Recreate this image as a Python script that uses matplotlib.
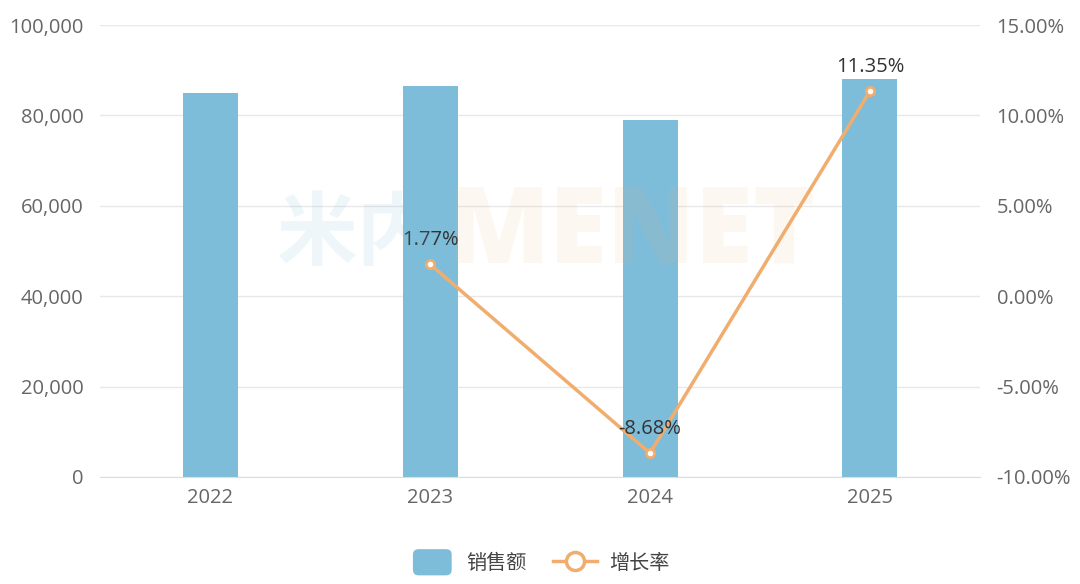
import matplotlib.pyplot as plt
from matplotlib.ticker import FuncFormatter
from matplotlib.patches import FancyBboxPatch
from matplotlib.lines import Line2D
from matplotlib.legend_handler import HandlerPatch

plt.rcParams['font.family'] = ['Open Sans', 'Noto Sans CJK SC', 'DejaVu Sans']

years = ['2022', '2023', '2024', '2025']
sales = [85000, 86500, 79000, 88000]
growth = [None, 1.77, -8.68, 11.35]
growth_labels = ['', '1.77%', '-8.68%', '11.35%']

bar_color = '#7ebdd9'
line_color = '#f0ad6e'
tick_color = '#666666'

fig = plt.figure(figsize=(10.8, 5.84), dpi=100)
ax = fig.add_axes([100/1080, 1-477/584, 880/1080, 452/584])
ax2 = ax.twinx()

x = list(range(len(years)))
ax.bar(x, sales, width=0.25, color=bar_color, zorder=2)
ax.set_xlim(-0.5, 3.5)
ax.set_ylim(0, 100000)
ax.set_yticks(range(0, 100001, 20000))
ax.yaxis.set_major_formatter(FuncFormatter(lambda v, p: f'{int(v):,}'))
ax.set_xticks(x)
ax.set_xticklabels(years)
ax.grid(axis='y', color='#e8e8e8', linewidth=1, zorder=0)
ax.set_axisbelow(True)

gx = [i for i, g in zip(x, growth) if g is not None]
gy = [g for g in growth if g is not None]
ax2.plot(gx, gy, color=line_color, linewidth=2.5, marker='o', markersize=6,
         markerfacecolor='white', markeredgecolor=line_color, markeredgewidth=2,
         zorder=3)
for xi, gi, lab in zip(x, growth, growth_labels):
    if gi is None:
        continue
    ax2.text(xi, gi + 0.8, lab, ha='center', va='bottom', fontsize=14.5, color='#333333')
ax2.set_ylim(-10, 15)
ax2.set_yticks(range(-10, 16, 5))
ax2.yaxis.set_major_formatter(FuncFormatter(lambda v, p: f'{v:.2f}%'))

for a in (ax, ax2):
    for s in a.spines.values():
        s.set_visible(False)
    a.tick_params(length=0, labelsize=14.5, colors=tick_color)
ax.spines['bottom'].set_visible(True)
ax.spines['bottom'].set_color('#dddddd')
ax.tick_params(axis='y', pad=12)
ax.tick_params(axis='x', pad=8)
ax2.tick_params(axis='y', pad=12)

# watermark
fig.text(0.405, 0.597, '米内', fontsize=58, fontweight='heavy', color='#7ebdd9', alpha=0.12,
         ha='right', va='center', zorder=10, family=['Noto Sans CJK SC'])
fig.text(0.415, 0.597, 'MENET', fontsize=76, fontweight='heavy', color='#f0ad6e', alpha=0.09,
         ha='left', va='center', zorder=10)


class RoundRectHandler(HandlerPatch):
    def create_artists(self, legend, orig_handle, xdescent, ydescent, width, height, fontsize, trans):
        p = FancyBboxPatch((-xdescent + 2, -ydescent - 2), width - 4, height + 4,
                           boxstyle='round,pad=0,rounding_size=4',
                           facecolor=bar_color, edgecolor='none', transform=trans)
        return [p]


bar_handle = FancyBboxPatch((0, 0), 1, 1, facecolor=bar_color)
line_handle = Line2D([], [], color=line_color, linewidth=2.5, marker='o', markersize=13,
                     markerfacecolor='white', markeredgecolor=line_color, markeredgewidth=2.5)
leg = fig.legend([bar_handle, line_handle], ['销售额', '增长率'], loc='center',
                 bbox_to_anchor=(0.5, 1-563/584), ncol=2, frameon=False, fontsize=14.5,
                 handlelength=2.2, handleheight=1.2, columnspacing=1.3, handletextpad=0.6,
                 handler_map={FancyBboxPatch: RoundRectHandler()})
for t in leg.get_texts():
    t.set_color('#444444')
    t.set_family(['Noto Sans CJK SC'])

fig.savefig('out.png', dpi=100)
